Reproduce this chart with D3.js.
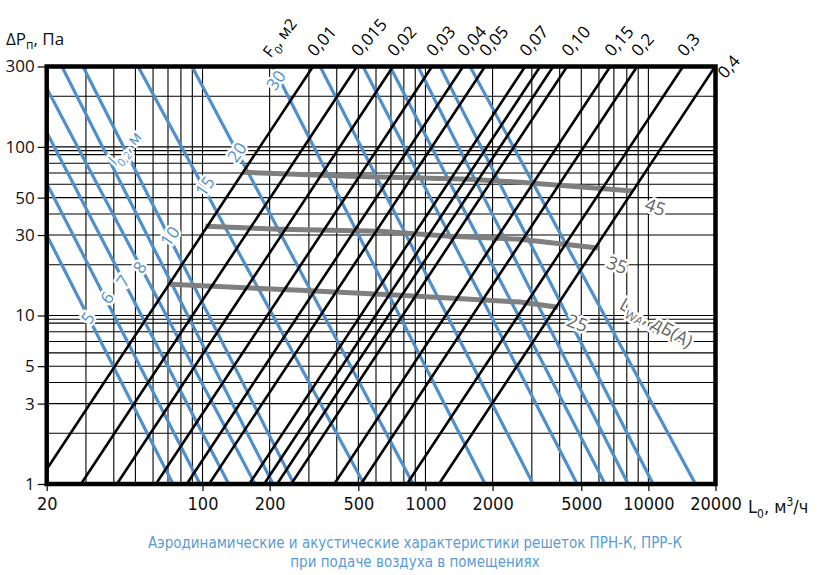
<!DOCTYPE html>
<html>
<head>
<meta charset="utf-8">
<script src="https://cdn.jsdelivr.net/npm/d3@7"></script>
<style>
  body { margin: 0; background: #fff; }
  svg { display: block; }
</style>
</head>
<body>
<div id="vis"></div>
<script>
// Frame and plot box
const FRAME_WIDTH = 825;
const FRAME_HEIGHT = 575;
const PLOT = {left: 46.7, right: 715.5, top: 66.5, bottom: 484};

// ---- data ----
// x axis: air flow L0, m3/h (log)
const X_TICKS = [20, 100, 200, 500, 1000, 2000, 5000, 10000, 20000];
// y axis: pressure drop, Pa (log)
const Y_TICKS = [1, 3, 5, 10, 30, 50, 100, 300];
// grid
const X_GRID = [30, 40, 50, 60, 70, 80, 90, 100, 200, 300, 400, 500, 600, 700, 800, 900,
                1000, 2000, 3000, 4000, 5000, 6000, 7000, 8000, 9000, 10000];
const Y_GRID = [2, 3, 4, 5, 6, 7, 8, 9, 9.5, 10, 20, 30, 40, 50, 60, 70, 80, 90, 95, 100, 200];

// F0 lines (black): label, L0 where the line meets dP = 1 and dP = 300
const F0_LABELS = ["0,01", "0,015", "0,02", "0,03", "0,04", "0,05", "0,07", "", "", "0,10", "0,15", "0,2", "0,3", "0,4"];
const F0_BOTTOM = [18.1, 28.5, 41.3, 61.8, 85, 107, 162, 189, 216, 250, 390, 514, 826, 1150];
const F0_TOP    = [313, 493, 715, 1070, 1475, 1850, 2800, 3270, 3740, 4320, 6740, 8900, 14300, 19930];

// throw length lines l0,2 (blue): start [L0, dP] and end [L0, dP]
const BLUE_START = [[20, 30], [20, 60.8], [20, 122], [20, 223], [23.4, 300], [29.1, 300], [51.4, 300],
                    [89.7, 300], [207, 300], [337, 300], [525, 300], [694, 300], [926, 300], [1163, 300], [1585, 300]];
const BLUE_END   = [[73.7, 1], [97.4, 1], [131, 1], [172, 1], [207, 1], [257, 1], [530, 1],
                    [880, 1], [1851, 1], [3040, 1], [4790, 1], [6390, 1], [8110, 1], [10500, 1], [16260, 1]];
// labels on the blue lines: text, L0, dP
const BLUE_LABELS = [["5", 30.6, 9.64], ["6", 37.3, 12.7], ["7", 44.0, 16.0], ["8", 52.4, 19.3],
                     ["10", 71.5, 29.5], ["15", 102.6, 58.4], ["20", 142.8, 92.9], ["30", 213.6, 248]];

// sound power lines LwA (grey)
const LWA_45 = [[152, 70.7], [459, 67], [1584, 64.3], [2660, 61.7], [8540, 54.8]];
const LWA_35 = [[103, 33.8], [223, 32.5], [626, 31.6], [1290, 29.5], [2660, 28.3], [5940, 25.1]];
const LWA_25 = [[71.5, 15.3], [274, 14.1], [770, 13.2], [2660, 12.0], [3930, 11.2]];
const LWA_LABELS = [["45", 10730, 43.9], ["35", 7230, 19.9], ["25", 4800, 9.0]];

// ---- scales ----
const X_SCALE = d3.scaleLog().domain([20, 20000]).range([PLOT.left, PLOT.right]);
const Y_SCALE = d3.scaleLog().domain([1, 300]).range([PLOT.bottom, PLOT.top]);

const BLUE = "#4f8fca";
const GREY = "#7f7f7f";
const NARROW = "'Liberation Sans Narrow', 'DejaVu Sans Condensed', sans-serif";

const FRAME = d3.select("#vis")
  .append("svg")
    .attr("width", FRAME_WIDTH)
    .attr("height", FRAME_HEIGHT);

FRAME.append("clipPath")
    .attr("id", "plotclip")
  .append("rect")
    .attr("x", PLOT.left)
    .attr("y", PLOT.top)
    .attr("width", PLOT.right - PLOT.left)
    .attr("height", PLOT.bottom - PLOT.top);

const PLOTG = FRAME.append("g").attr("clip-path", "url(#plotclip)");

// grid
PLOTG.selectAll(".vgrid")
  .data(X_GRID)
  .enter()
  .append("line")
    .attr("x1", (d) => X_SCALE(d))
    .attr("x2", (d) => X_SCALE(d))
    .attr("y1", PLOT.top)
    .attr("y2", PLOT.bottom)
    .attr("stroke", "#000")
    .attr("stroke-width", 1.1);

PLOTG.selectAll(".hgrid")
  .data(Y_GRID)
  .enter()
  .append("line")
    .attr("x1", PLOT.left)
    .attr("x2", PLOT.right)
    .attr("y1", (d) => Y_SCALE(d))
    .attr("y2", (d) => Y_SCALE(d))
    .attr("stroke", "#000")
    .attr("stroke-width", 1.1);

// blue throw lines
PLOTG.selectAll(".blue")
  .data(BLUE_START)
  .enter()
  .append("line")
    .attr("x1", (d) => X_SCALE(d[0]))
    .attr("y1", (d) => Y_SCALE(d[1]))
    .attr("x2", (d, i) => X_SCALE(BLUE_END[i][0]))
    .attr("y2", (d, i) => Y_SCALE(BLUE_END[i][1]))
    .attr("stroke", BLUE)
    .attr("stroke-width", 3.2);

// grey LwA lines
const LINE = d3.line()
  .x((d) => X_SCALE(d[0]))
  .y((d) => Y_SCALE(d[1]));

PLOTG.selectAll(".lwa")
  .data([LWA_45, LWA_35, LWA_25])
  .enter()
  .append("path")
    .attr("d", LINE)
    .attr("fill", "none")
    .attr("stroke", GREY)
    .attr("stroke-width", 5);

// black F0 lines
PLOTG.selectAll(".f0")
  .data(F0_TOP)
  .enter()
  .append("line")
    .attr("x1", (d, i) => X_SCALE(F0_BOTTOM[i]))
    .attr("y1", Y_SCALE(1))
    .attr("x2", (d) => X_SCALE(d))
    .attr("y2", Y_SCALE(300))
    .attr("stroke", "#000")
    .attr("stroke-width", 2.6);

// labels with a white halo that cuts the lines
function halo(sel) {
  sel.attr("stroke", "#fff")
     .attr("stroke-width", 5)
     .attr("paint-order", "stroke")
     .attr("stroke-linejoin", "round");
}

FRAME.selectAll(".blab")
  .data(BLUE_LABELS)
  .enter()
  .append("text")
    .attr("transform", (d) => "translate(" + X_SCALE(d[1]) + "," + Y_SCALE(d[2]) + ") rotate(-55)")
    .attr("text-anchor", "middle")
    .attr("dy", "0.35em")
    .style("font-family", "'Open Sans', sans-serif")
    .style("font-size", "17px")
    .attr("fill", BLUE)
    .text((d) => d[0])
    .call(halo);

// l0,2 name
const LNAME = FRAME.append("text")
    .attr("transform", "translate(" + X_SCALE(44.9) + "," + Y_SCALE(98) + ") rotate(-48)")
    .attr("text-anchor", "middle")
    .attr("dy", "0.35em")
    .style("font-family", "'Open Sans', sans-serif")
    .style("font-size", "16px")
    .attr("fill", BLUE)
    .call(halo);
LNAME.append("tspan").text("l");
LNAME.append("tspan").attr("dy", 5).style("font-size", "11px").text("0,2");
LNAME.append("tspan").attr("dy", -5).text(", м");

// grey labels
FRAME.selectAll(".glab")
  .data(LWA_LABELS)
  .enter()
  .append("text")
    .attr("transform", (d) => "translate(" + X_SCALE(d[1]) + "," + Y_SCALE(d[2]) + ") rotate(20)")
    .attr("text-anchor", "middle")
    .attr("dy", "0.35em")
    .style("font-family", "'Open Sans', sans-serif")
    .style("font-size", "18px")
    .attr("fill", "#666")
    .text((d) => d[0])
    .call(halo);

const LWANAME = FRAME.append("text")
    .attr("transform", "translate(" + X_SCALE(10500) + "," + Y_SCALE(8.4) + ") rotate(30)")
    .attr("text-anchor", "middle")
    .style("font-family", "'Open Sans', sans-serif")
    .style("font-size", "18px")
    .attr("fill", "#666")
    .call(halo);
LWANAME.append("tspan").text("L");
LWANAME.append("tspan").attr("dy", 5).style("font-size", "12px").text("WA");
LWANAME.append("tspan").attr("dy", -5).text(", дБ(А)");

// F0 labels at the top of the black lines
FRAME.selectAll(".flab")
  .data(F0_TOP)
  .enter()
  .append("text")
    .attr("transform", (d, i) => {
      const px = X_SCALE(d);
      if (i === F0_TOP.length - 1) return "translate(" + (px + 10) + "," + (PLOT.top + 13) + ") rotate(-48)";
      return "translate(" + (px + 2) + "," + (PLOT.top - 9) + ") rotate(-48)";
    })
    .style("font-family", "'Open Sans', sans-serif")
    .style("font-size", "17px")
    .attr("fill", "#000")
    .text((d, i) => F0_LABELS[i]);

const FNAME = FRAME.append("text")
    .attr("transform", "translate(" + (X_SCALE(20) + 224) + "," + (PLOT.top - 8) + ") rotate(-52)")
    .style("font-family", "'Open Sans', sans-serif")
    .style("font-size", "16px")
    .attr("fill", "#000");
FNAME.append("tspan").text("F");
FNAME.append("tspan").attr("dy", 5).style("font-size", "11px").text("0");
FNAME.append("tspan").attr("dy", -5).text(", м2");

// plot border
FRAME.append("rect")
    .attr("x", PLOT.left)
    .attr("y", PLOT.top)
    .attr("width", PLOT.right - PLOT.left)
    .attr("height", PLOT.bottom - PLOT.top)
    .attr("fill", "none")
    .attr("stroke", "#000")
    .attr("stroke-width", 4.5);

// y axis ticks
FRAME.append("g")
    .attr("transform", "translate(" + PLOT.left + ",0)")
    .call(d3.axisLeft(Y_SCALE).tickValues(Y_TICKS).tickFormat(d3.format("d")).tickSize(9).tickPadding(3))
    .call((g) => g.select(".domain").remove())
    .call((g) => g.selectAll("line").attr("stroke-width", 1.2))
    .call((g) => g.selectAll("text")
        .style("font-family", "'Open Sans', sans-serif")
        .style("font-size", "17px")
        .attr("fill", "#111"));

// x axis ticks
FRAME.append("g")
    .attr("transform", "translate(0," + PLOT.bottom + ")")
    .call(d3.axisBottom(X_SCALE).tickValues(X_TICKS).tickFormat(d3.format("d")).tickSize(7).tickPadding(6))
    .call((g) => g.select(".domain").remove())
    .call((g) => g.selectAll("line").attr("stroke-width", 1.2))
    .call((g) => g.selectAll("text")
        .style("font-family", NARROW)
        .style("font-size", "18px")
        .attr("fill", "#111"));

// axis names
const YNAME = FRAME.append("text")
    .attr("x", 6)
    .attr("y", 45)
    .style("font-family", "'Open Sans', sans-serif")
    .style("font-size", "17px")
    .attr("fill", "#111");
YNAME.append("tspan").text("ΔP");
YNAME.append("tspan").attr("dy", 4).style("font-size", "12px").text("п");
YNAME.append("tspan").attr("dy", -4).text(", Па");

const XNAME = FRAME.append("text")
    .attr("x", 748)
    .attr("y", 513)
    .style("font-family", NARROW)
    .style("font-size", "18px")
    .attr("fill", "#111");
XNAME.append("tspan").text("L");
XNAME.append("tspan").attr("dy", 5).style("font-size", "12px").text("0");
XNAME.append("tspan").attr("dy", -5).text(", м");
XNAME.append("tspan").attr("dy", -7).style("font-size", "12px").text("3");
XNAME.append("tspan").attr("dy", 7).text("/ч");

// caption
const CAPTION = ["Аэродинамические и акустические характеристики решеток ПРН-К, ПРР-К",
                 "при подаче воздуха в помещениях"];
FRAME.selectAll(".cap")
  .data(CAPTION)
  .enter()
  .append("text")
    .attr("x", 415)
    .attr("y", (d, i) => 548 + i * 19)
    .attr("text-anchor", "middle")
    .style("font-family", NARROW)
    .style("font-size", "15px")
    .attr("fill", "#5b9bd5")
    .text((d) => d);
</script>
</body>
</html>
